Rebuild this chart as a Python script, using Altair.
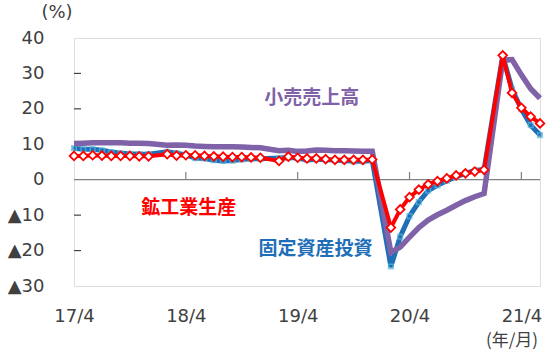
import altair as alt
import pandas as pd

months = (
    [f"2017-{m:02d}" for m in range(4, 13)]
    + [f"2018-{m:02d}" for m in range(2, 13)]
    + [f"2019-{m:02d}" for m in range(2, 13)]
    + [f"2020-{m:02d}" for m in range(2, 13)]
    + [f"2021-{m:02d}" for m in range(2, 7)]
)

industrial = [6.7, 6.7, 6.9, 6.8, 6.7, 6.7, 6.7, 6.6, 6.6,
              7.2, 6.8, 6.9, 6.9, 6.7, 6.6, 6.5, 6.4, 6.4, 6.3, 6.2,
              5.3, 6.5, 6.2, 6.0, 6.0, 5.8, 5.6, 5.6, 5.6, 5.6, 5.7,
              -13.5, -8.4, -4.9, -2.8, -1.3, -0.4, 0.4, 1.2, 1.8, 2.3, 2.8,
              35.1, 24.5, 20.3, 17.8, 15.9]
retail = [10.2, 10.3, 10.4, 10.4, 10.4, 10.4, 10.3, 10.3, 10.2,
          9.7, 9.8, 9.7, 9.5, 9.4, 9.3, 9.3, 9.3, 9.2, 9.1, 9.0,
          8.2, 8.3, 8.0, 8.1, 8.4, 8.3, 8.2, 8.2, 8.1, 8.0, 8.0,
          -20.5, -19.0, -16.2, -13.5, -11.4, -9.9, -8.6, -7.2, -5.9, -4.8, -3.9,
          33.8, 33.9, 29.6, 25.7, 23.0]
fixed_inv = [8.9, 8.6, 8.6, 8.3, 7.8, 7.5, 7.3, 7.2, 7.2,
             7.9, 7.5, 7.0, 6.1, 6.0, 5.5, 5.3, 5.4, 5.7, 5.9, 5.9,
             6.1, 6.3, 6.1, 5.6, 5.8, 5.7, 5.5, 5.4, 5.2, 5.2, 5.4,
             -24.5, -16.1, -10.3, -6.3, -3.1, -1.6, -0.3, 0.8, 1.8, 2.6, 2.9,
             35.0, 25.6, 19.9, 15.4, 12.6]

y_ticks = [-30, -20, -10, 0, 10, 20, 30, 40]
x_ticks = [0, 12, 24, 36, 48]  # months since 2017/4 -> 17/4 ... 21/4

labels = ["小売売上高", "鉱工業生産", "固定資産投資"]
label_x = [25.5, 12.3, 25.9]
label_y = [23.1, -8.0, -19.6]
label_colors = ["#7F62A8", "#FF0000", "#1F6FB8"]

idx = [(int(s[:4]) - 2017) * 12 + int(s[5:]) - 4 for s in months]
df = pd.DataFrame({"t": idx, "ip": industrial, "rs": retail, "fai": fixed_inv})

FONT = "DejaVu Sans"
CJK = "Noto Sans CJK JP"
AXC = "#404040"

xscale = alt.Scale(domain=[0, 50], nice=False, zero=False)
yscale = alt.Scale(domain=[-30, 40], nice=False)

x_axis = alt.Axis(
    values=x_ticks, labelExpr="(17 + datum.value / 12) + '/4'",
    ticks=False, domain=False, grid=False, title=None, labelFlush=False,
    labelOverlap=False, labelBound=False,
    labelFont=FONT, labelFontSize=18, labelColor=AXC, labelPadding=21)
y_axis = alt.Axis(
    values=y_ticks,
    labelExpr="datum.value < 0 ? '▲' + abs(datum.value) : '' + datum.value",
    ticks=False, domain=False, grid=False, title=None, labelFlush=False,
    labelOverlap=False, labelBound=False,
    labelFont=FONT, labelFontSize=18, labelColor=AXC, labelPadding=30)


def X(f):
    return alt.X(f, scale=xscale, axis=x_axis)


def Y(f):
    return alt.Y(f, scale=yscale, axis=y_axis)


base = alt.Chart(df)

zero = alt.Chart(pd.DataFrame({"y": [0]})).mark_rule(
    color="#808080", strokeWidth=1.2).encode(y=Y("y:Q"))

xt = alt.Chart(pd.DataFrame({"t": x_ticks[1:], "y0": [0] * 4, "y1": [2.2] * 4})).mark_rule(
    color="#808080", strokeWidth=1.2).encode(x=X("t:Q"), y=Y("y0:Q"), y2="y1:Q")

yt = alt.Chart(pd.DataFrame({"y": [v for v in y_ticks if v not in (-30, 0, 40)]})).mark_rule(
    color=AXC, strokeWidth=1.2).encode(y=Y("y:Q"), x=alt.value(0), x2=alt.value(7))

blue = base.mark_line(color="#1F6FB8", strokeWidth=5).encode(x=X("t:Q"), y=Y("fai:Q"))
blue_pts = base.mark_point(shape="square", filled=True, size=22, color="#1F6FB8",
                           stroke="#5AB8DA", strokeWidth=1.5).encode(x=X("t:Q"), y=Y("fai:Q"))

purple = base.mark_line(color="#7F62A8", strokeWidth=5.5).encode(x=X("t:Q"), y=Y("rs:Q"))

red = base.mark_line(color="#FF0000", strokeWidth=4).encode(x=X("t:Q"), y=Y("ip:Q"))
red_pts = base.mark_point(shape="diamond", filled=True, size=75, fill="white",
                          stroke="#FF0000", strokeWidth=1.8, opacity=1).encode(
    x=X("t:Q"), y=Y("ip:Q"))

lab_df = pd.DataFrame({"label": labels, "x": label_x, "y": label_y, "c": label_colors})
lab = alt.Chart(lab_df).mark_text(font=CJK, fontSize=19, fontWeight="bold").encode(
    x=X("x:Q"), y=Y("y:Q"), text="label:N", color=alt.Color("c:N", scale=None))

pct = alt.Chart(pd.DataFrame({"s": ["(%)"]})).mark_text(
    font=FONT, fontSize=18, color=AXC).encode(
    text="s:N", x=alt.value(-17), y=alt.value(-25))
ym = alt.Chart(pd.DataFrame({"s": ["(年/月)"]})).mark_text(
    font=CJK, fontSize=17, color=AXC).encode(
    text="s:N", x=alt.value(438), y=alt.value(303))

chart = alt.layer(zero, xt, yt, blue, blue_pts, purple, red, red_pts, lab, pct, ym).properties(
    width=466, height=248,
    autosize=alt.AutoSizeParams(type="none"),
    padding={"left": 74, "top": 38, "right": 10, "bottom": 69},
).configure_view(stroke="#333333", strokeWidth=1.8).configure(
    background="white").configure_axis(labelOverlap=False, labelFlush=False)

chart.save("out.html", embed_options={"renderer": "svg", "actions": False})
